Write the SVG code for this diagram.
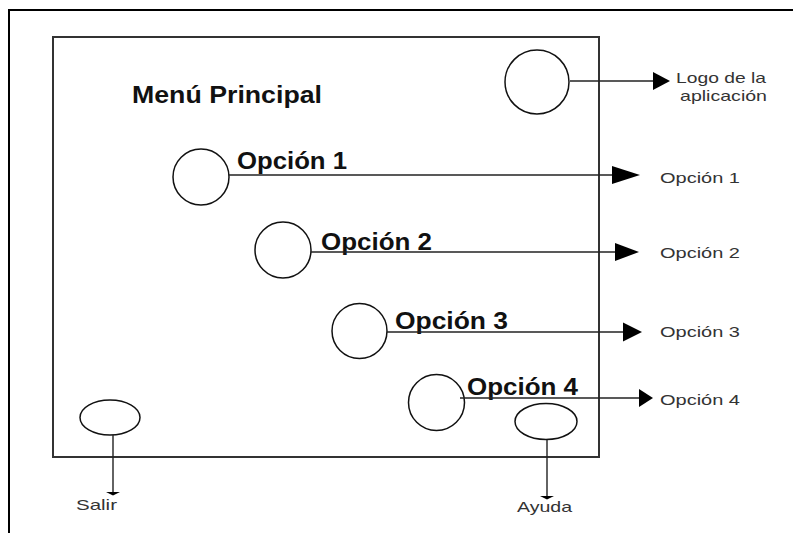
<svg xmlns="http://www.w3.org/2000/svg" width="793" height="533" viewBox="0 0 793 533">
  <style>
    .frame { fill: none; stroke: #000; stroke-width: 2; }
    .screen { fill: none; stroke: #333; stroke-width: 2; }
    .shape { fill: #fff; stroke: #111; stroke-width: 1.5; }
    .wire { stroke: #222; stroke-width: 1.4; fill: none; }
    .head { fill: #000; }
    .title { font-family: "Liberation Sans", Arial, sans-serif; font-weight: bold; font-size: 23px; fill: #111; }
    .opt { font-family: "Liberation Sans", Arial, sans-serif; font-weight: bold; font-size: 23px; fill: #111; }
    .note { font-family: "Liberation Sans", Arial, sans-serif; font-size: 15px; fill: #333; }
  </style>
  <rect width="793" height="533" fill="#fff"/>

  <!-- page frame -->
  <path class="frame" d="M9,533 V10 H793"/>

  <!-- main screen -->
  <g id="screen">
    <rect class="screen" x="53" y="37" width="546" height="420"/>
    <text class="title" x="132" y="103" textLength="190" lengthAdjust="spacingAndGlyphs">Menú Principal</text>
  </g>

  <g id="logo">
    <circle class="shape" cx="537" cy="82" r="32"/>
  </g>

  <g id="opcion1">
    <circle class="shape" cx="201" cy="177" r="28"/>
    <text class="opt" x="237" y="169" textLength="110" lengthAdjust="spacingAndGlyphs">Opción 1</text>
  </g>
  <g id="opcion2">
    <circle class="shape" cx="283" cy="250" r="28"/>
    <text class="opt" x="321" y="250" textLength="111" lengthAdjust="spacingAndGlyphs">Opción 2</text>
  </g>
  <g id="opcion3">
    <circle class="shape" cx="359.5" cy="331" r="27.5"/>
    <text class="opt" x="395" y="329" textLength="113" lengthAdjust="spacingAndGlyphs">Opción 3</text>
  </g>
  <g id="opcion4">
    <circle class="shape" cx="436.5" cy="402.5" r="28"/>
    <text class="opt" x="467" y="395" textLength="111" lengthAdjust="spacingAndGlyphs">Opción 4</text>
  </g>

  <g id="salir">
    <ellipse class="shape" cx="110" cy="417.5" rx="30" ry="17.5"/>
  </g>
  <g id="ayuda">
    <ellipse class="shape" cx="546" cy="421.5" rx="31" ry="18"/>
  </g>

  <!-- connectors -->
  <g id="connectors">
    <line class="wire" x1="570" y1="81" x2="654" y2="81"/>
    <polygon class="head" points="653,72 670,81 653,90"/>

    <line class="wire" x1="229" y1="175" x2="613" y2="175"/>
    <polygon class="head" points="612,166 640,175 612,184"/>

    <line class="wire" x1="311" y1="252" x2="616" y2="252"/>
    <polygon class="head" points="615,243 639,252 615,261"/>

    <line class="wire" x1="387" y1="332" x2="624" y2="332"/>
    <polygon class="head" points="623,322.5 642,332 623,341.5"/>

    <line class="wire" x1="460" y1="398" x2="640" y2="398"/>
    <polygon class="head" points="639,389 653,398 639,407"/>

    <line class="wire" x1="113" y1="435" x2="113" y2="493"/>
    <polygon class="head" points="106,492 120,492 113,495.5"/>

    <line class="wire" x1="547" y1="440" x2="547" y2="497"/>
    <polygon class="head" points="540,496 554,496 547,499.5"/>
  </g>

  <!-- side labels -->
  <g id="labels">
    <text class="note" x="676" y="83" textLength="90" lengthAdjust="spacingAndGlyphs">Logo de la</text>
    <text class="note" x="680" y="101" textLength="87" lengthAdjust="spacingAndGlyphs">aplicación</text>
    <text class="note" x="660" y="183" textLength="80" lengthAdjust="spacingAndGlyphs">Opción 1</text>
    <text class="note" x="660" y="258" textLength="80" lengthAdjust="spacingAndGlyphs">Opción 2</text>
    <text class="note" x="660" y="337" textLength="80" lengthAdjust="spacingAndGlyphs">Opción 3</text>
    <text class="note" x="660" y="405" textLength="80" lengthAdjust="spacingAndGlyphs">Opción 4</text>
    <text class="note" x="76" y="510" textLength="41" lengthAdjust="spacingAndGlyphs">Salir</text>
    <text class="note" x="517" y="512" textLength="55" lengthAdjust="spacingAndGlyphs">Ayuda</text>
  </g>
</svg>
